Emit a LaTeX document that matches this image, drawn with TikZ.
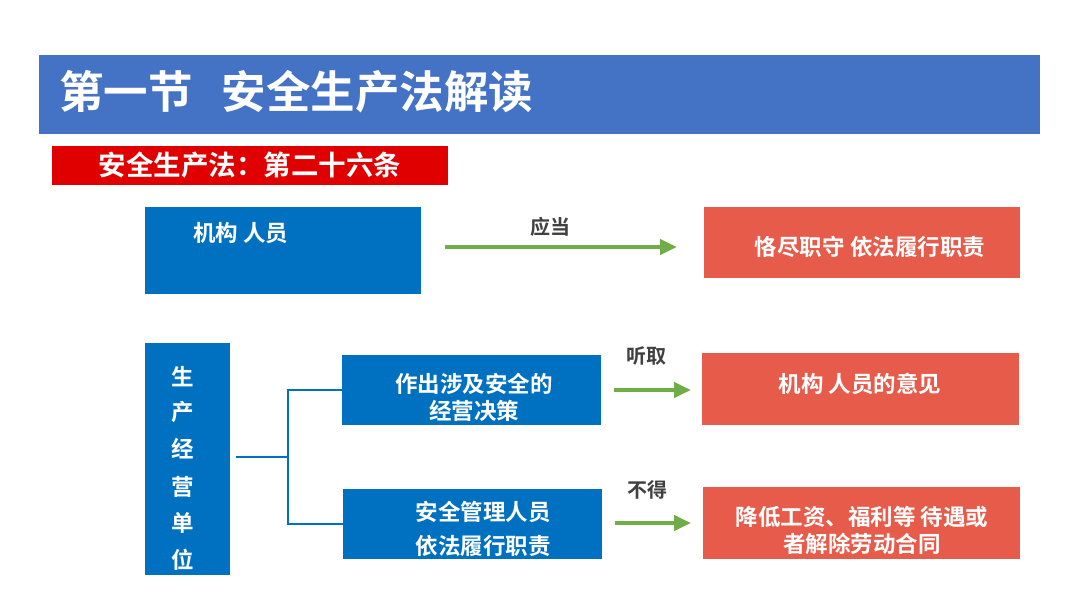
\documentclass[tikz,border=0pt]{standalone}
\usepackage{fontspec}
\setmainfont{Noto Sans CJK SC}
\newfontfamily\cjkb{Noto Sans CJK SC Bold}
\usetikzlibrary{arrows.meta}
\definecolor{titleblue}{HTML}{4472C4}
\definecolor{boxblue}{HTML}{0070C0}
\definecolor{barred}{HTML}{E00000}
\definecolor{boxred}{HTML}{E65B4A}
\definecolor{arrowgreen}{HTML}{70AD47}
\definecolor{labelgray}{HTML}{404040}
\begin{document}
\begin{tikzpicture}[x=1pt,y=-1pt,
  bluebox/.style={fill=boxblue,draw=none,inner sep=0pt},
  redbox/.style={fill=boxred,draw=none,inner sep=0pt},
  wtext/.style={text=white,font=\cjkb\fontsize{22.5}{28}\selectfont,inner sep=0pt,align=center},
  garrow/.style={draw=arrowgreen,line width=4pt,-{Triangle[length=17pt,width=15pt]}},
  glabel/.style={text=labelgray,font=\cjkb\fontsize{20}{24}\selectfont,inner sep=0pt},
  tree/.style={draw=boxblue,line width=2pt}]
\useasboundingbox (0,0) rectangle (1080,608);
\fill[white] (0,0) rectangle (1080,608);
% title
\node[fill=titleblue,minimum width=1001pt,minimum height=79pt,anchor=north west,inner sep=0pt] (title) at (39,55) {};
\node[anchor=west,text=white,font=\cjkb\fontsize{44.5}{50}\selectfont,inner sep=0pt] (titletext) at (59,92) {第一节\hspace{0.65em}安全生产法解读};
% red bar
\node[fill=barred,minimum width=396pt,minimum height=39pt,anchor=north west,inner sep=0pt] (bar) at (52,146) {};
\node[text=white,font=\cjkb\fontsize{27.5}{30}\selectfont,inner sep=0pt] (bartext) at (250,165) {安全生产法：第二十六条};
% row 1
\node[bluebox,minimum width=276pt,minimum height=87pt,anchor=north west] (b1) at (145,207) {};
\node[wtext,anchor=west] (b1t) at (193,233) {机构 人员};
\node[redbox,minimum width=316pt,minimum height=71pt,anchor=north west] (r1) at (704,207) {};
\node[wtext] (r1t) at (870,247) {恪尽职守 依法履行职责};
\coordinate (a1s) at (445,247);
\coordinate (a1e) at (677,247);
\draw[garrow] (a1s) -- (a1e);
\node[glabel] (l1) at (550,227) {应当};
% vertical box
\node[bluebox,minimum width=85pt,minimum height=232pt,anchor=north west] (v) at (145,343) {};
\node[wtext] at (183,377) {生};
\node[wtext] at (183,412) {产};
\node[wtext] at (183,449) {经};
\node[wtext] at (183,487) {营};
\node[wtext] at (183,523) {单};
\node[wtext] at (183,560) {位};
% boxes
\node[bluebox,minimum width=259pt,minimum height=70pt,anchor=north west] (b2) at (342,355) {};
\node[wtext,font=\cjkb\fontsize{22.5}{27}\selectfont] (b2t) at (474,397) {作出涉及安全的\\经营决策};
\node[bluebox,minimum width=259pt,minimum height=70pt,anchor=north west] (b3) at (343,489) {};
\node[wtext,font=\cjkb\fontsize{22.5}{34}\selectfont] (b3t) at (483,529) {安全管理人员\\依法履行职责};
% tree connector
\coordinate (tv) at (236,457);
\coordinate (tj) at (288,457);
\draw[tree] (tv) -- (tj);
\draw[tree] (b2.west) -| (tj) |- (b3.west);
% red boxes
\node[redbox,minimum width=317pt,minimum height=72pt,anchor=north west] (r2) at (702,353) {};
\node[wtext] (r2t) at (860,384) {机构 人员的意见};
\node[redbox,minimum width=317pt,minimum height=72pt,anchor=north west] (r3) at (703,487) {};
\node[wtext,font=\cjkb\fontsize{22.5}{27}\selectfont] (r3t) at (862,530) {降低工资、福利等 待遇或\\者解除劳动合同};
% arrows
\coordinate (a2s) at (614,390);
\coordinate (a2e) at (691,390);
\draw[garrow] (a2s) -- (a2e);
\node[glabel] (l2) at (646,356) {听取};
\coordinate (a3s) at (615,523);
\coordinate (a3e) at (691,523);
\draw[garrow] (a3s) -- (a3e);
\node[glabel] (l3) at (647,490) {不得};
\end{tikzpicture}
\end{document}
